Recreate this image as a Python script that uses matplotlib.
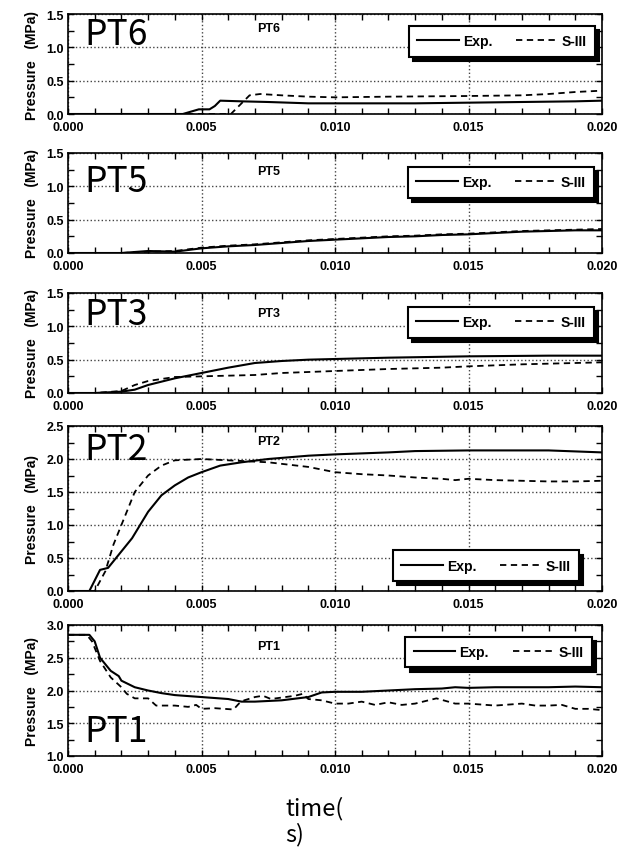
import matplotlib
matplotlib.use('Agg')
import matplotlib.pyplot as plt
from matplotlib.ticker import MultipleLocator, FormatStrFormatter

# ---------------------------------------------------------------------------
# Data (time in s, pressure in MPa)
# ---------------------------------------------------------------------------
pt6_exp_t = [0.0, 0.0043, 0.0049, 0.0053, 0.0055, 0.0057, 0.0065, 0.0075, 0.009,
             0.011, 0.013, 0.015, 0.017, 0.019, 0.020]
pt6_exp_p = [0.0, 0.0, 0.07, 0.07, 0.12, 0.20, 0.19, 0.18, 0.16,
             0.16, 0.16, 0.17, 0.18, 0.19, 0.20]
pt6_sim_t = [0.0, 0.0061, 0.0068, 0.0072, 0.008, 0.009, 0.010, 0.012, 0.015,
             0.017, 0.018, 0.019, 0.020]
pt6_sim_p = [0.0, 0.0, 0.28, 0.30, 0.28, 0.26, 0.25, 0.26, 0.27,
             0.28, 0.30, 0.33, 0.35]

pt5_exp_t = [0.0, 0.002, 0.003, 0.004, 0.005, 0.006, 0.007, 0.008, 0.009, 0.010,
             0.011, 0.012, 0.013, 0.014, 0.015, 0.016, 0.017, 0.018, 0.019, 0.020]
pt5_exp_p = [0.0, 0.0, 0.03, 0.02, 0.07, 0.10, 0.12, 0.15, 0.18, 0.20,
             0.22, 0.24, 0.25, 0.27, 0.28, 0.30, 0.32, 0.33, 0.34, 0.34]
pt5_sim_t = [0.0, 0.002, 0.003, 0.004, 0.005, 0.006, 0.007, 0.008, 0.009, 0.010,
             0.011, 0.012, 0.013, 0.014, 0.015, 0.016, 0.017, 0.018, 0.019, 0.020]
pt5_sim_p = [0.0, 0.0, 0.02, 0.03, 0.08, 0.11, 0.13, 0.16, 0.19, 0.21,
             0.23, 0.25, 0.26, 0.28, 0.29, 0.31, 0.33, 0.34, 0.35, 0.36]

pt3_exp_t = [0.0, 0.001, 0.002, 0.0025, 0.003, 0.004, 0.005, 0.006, 0.007, 0.008,
             0.009, 0.010, 0.012, 0.015, 0.018, 0.020]
pt3_exp_p = [0.0, 0.0, 0.02, 0.05, 0.12, 0.22, 0.30, 0.38, 0.45, 0.48,
             0.50, 0.51, 0.53, 0.55, 0.56, 0.56]
pt3_sim_t = [0.0, 0.001, 0.002, 0.0025, 0.003, 0.004, 0.005, 0.007, 0.008, 0.010,
             0.012, 0.014, 0.015, 0.017, 0.019, 0.020]
pt3_sim_p = [0.0, 0.0, 0.03, 0.12, 0.18, 0.24, 0.25, 0.27, 0.30, 0.33,
             0.36, 0.38, 0.40, 0.43, 0.45, 0.46]

pt2_exp_t = [0.0, 0.0008, 0.0012, 0.0015, 0.0018, 0.0024, 0.003, 0.0035, 0.004,
             0.0045, 0.005, 0.0057, 0.0065, 0.0075, 0.009, 0.010, 0.012, 0.013,
             0.015, 0.018, 0.020]
pt2_exp_p = [0.0, 0.0, 0.32, 0.35, 0.50, 0.80, 1.20, 1.45, 1.60,
             1.72, 1.80, 1.90, 1.95, 2.00, 2.05, 2.07, 2.10, 2.12,
             2.13, 2.13, 2.10]
pt2_sim_t = [0.0, 0.001, 0.0014, 0.0017, 0.002, 0.0025, 0.003, 0.0035, 0.004,
             0.005, 0.006, 0.0075, 0.009, 0.010, 0.011, 0.012, 0.013, 0.014,
             0.0145, 0.015, 0.016, 0.017, 0.018, 0.019, 0.020]
pt2_sim_p = [0.0, 0.0, 0.30, 0.70, 1.00, 1.50, 1.75, 1.90, 1.98,
             2.00, 1.98, 1.95, 1.88, 1.80, 1.77, 1.75, 1.72, 1.70,
             1.68, 1.70, 1.68, 1.67, 1.66, 1.66, 1.67]

pt1_exp_t = [0.0, 0.0008, 0.001, 0.0012, 0.0016, 0.0019, 0.002, 0.0025, 0.003,
             0.0035, 0.004, 0.005, 0.006, 0.0065, 0.007, 0.008, 0.009, 0.0095,
             0.010, 0.011, 0.012, 0.013, 0.014, 0.0145, 0.015, 0.016, 0.017,
             0.018, 0.019, 0.020]
pt1_exp_p = [2.85, 2.85, 2.75, 2.50, 2.30, 2.22, 2.15, 2.05, 2.00,
             1.96, 1.93, 1.90, 1.87, 1.83, 1.83, 1.85, 1.90, 1.97,
             1.98, 1.98, 2.00, 2.02, 2.03, 2.05, 2.04, 2.05, 2.05,
             2.05, 2.06, 2.05]
pt1_sim_t = [0.0, 0.0007, 0.0009, 0.0012, 0.0016, 0.002, 0.0022, 0.0025, 0.003,
             0.0033, 0.004, 0.0045, 0.0048, 0.005, 0.0055, 0.0062, 0.0064, 0.0066,
             0.007, 0.0073, 0.0076, 0.0085, 0.0088, 0.009, 0.0095, 0.010, 0.0105,
             0.011, 0.0115, 0.012, 0.0125, 0.013, 0.0138, 0.0145, 0.015, 0.016,
             0.017, 0.0175, 0.018, 0.0185, 0.019, 0.0195, 0.020]
pt1_sim_p = [2.85, 2.85, 2.75, 2.45, 2.20, 2.05, 1.95, 1.88, 1.88,
             1.77, 1.77, 1.75, 1.78, 1.72, 1.73, 1.71, 1.80, 1.85,
             1.90, 1.92, 1.87, 1.92, 1.95, 1.87, 1.85, 1.80, 1.80,
             1.83, 1.78, 1.82, 1.78, 1.80, 1.88, 1.80, 1.80, 1.77,
             1.80, 1.77, 1.77, 1.78, 1.72, 1.72, 1.70]

panel_names = ['PT6', 'PT5', 'PT3', 'PT2', 'PT1']
y_limits = [(0, 1.5), (0, 1.5), (0, 1.5), (0, 2.5), (1.0, 3.0)]
x_ticks = [0.000, 0.005, 0.010, 0.015, 0.020]

series = [
    (pt6_exp_t, pt6_exp_p, pt6_sim_t, pt6_sim_p),
    (pt5_exp_t, pt5_exp_p, pt5_sim_t, pt5_sim_p),
    (pt3_exp_t, pt3_exp_p, pt3_sim_t, pt3_sim_p),
    (pt2_exp_t, pt2_exp_p, pt2_sim_t, pt2_sim_p),
    (pt1_exp_t, pt1_exp_p, pt1_sim_t, pt1_sim_p),
]

# ---------------------------------------------------------------------------
# Layout (pixel boxes measured on the 626x853 reference)
# ---------------------------------------------------------------------------
W, H = 626, 853
axes_px = [(15, 115), (154, 254), (294, 394), (427, 592), (626, 757)]
legend_anchor = [((0.987, 0.88), 'upper right'),
                 ((0.985, 0.86), 'upper right'),
                 ((0.985, 0.86), 'upper right'),
                 ((0.957, 0.06), 'lower right'),
                 ((0.981, 0.91), 'upper right')]
small_label_y = [0.86, 0.82, 0.80, 0.91, 0.84]
big_label_baseline = [45, 192, 325, 460, 742]

TICK_FONT = {'family': 'Liberation Sans', 'weight': 'bold', 'size': 9}
LABEL_FONT = {'family': 'Liberation Sans', 'weight': 'bold', 'size': 10}
BIG_FONT = ['Noto Sans CJK JP', 'DejaVu Sans']

fig = plt.figure(figsize=(W / 100, H / 100), dpi=100)
left_px, right_px = 68, 602

for i, name in enumerate(panel_names):
    top, bottom = axes_px[i]
    ax = fig.add_axes([left_px / W, 1 - bottom / H,
                       (right_px - left_px) / W, (bottom - top) / H])
    t_exp, p_exp, t_sim, p_sim = series[i]
    ax.plot(t_exp, p_exp, color='black', lw=1.5, label='Exp.')
    ax.plot(t_sim, p_sim, color='black', lw=1.3, ls=(0, (3.5, 2.5)), label='S-III')

    ax.set_xlim(0, 0.020)
    ax.set_ylim(*y_limits[i])
    ax.set_xticks(x_ticks)
    ax.xaxis.set_major_formatter(FormatStrFormatter('%.3f'))
    ax.yaxis.set_major_locator(MultipleLocator(0.5))
    ax.yaxis.set_major_formatter(FormatStrFormatter('%.1f'))
    ax.xaxis.set_minor_locator(MultipleLocator(0.001))
    ax.yaxis.set_minor_locator(MultipleLocator(0.25))
    ax.tick_params(which='both', direction='in', top=True, right=True,
                   length=4, width=1, pad=3)
    ax.tick_params(axis='x', which='major', pad=5)
    for lab in ax.get_xticklabels() + ax.get_yticklabels():
        lab.set_fontproperties(TICK_FONT)
    ax.grid(True, which='major', ls=':', lw=1, color='#444444')
    for sp in ax.spines.values():
        sp.set_linewidth(1.2)

    ax.set_ylabel('Pressure   (MPa)', fontdict=LABEL_FONT)
    ax.yaxis.set_label_coords(-0.054, 0.5)

    ax.text(0.375, small_label_y[i], name, transform=ax.transAxes,
            ha='center', va='center', fontdict=TICK_FONT)

    anchor, loc = legend_anchor[i]
    leg = ax.legend(loc=loc, bbox_to_anchor=anchor, ncol=2, handlelength=3.0,
                    columnspacing=1.7, handletextpad=0.3, borderpad=0.6,
                    borderaxespad=0, fancybox=False, framealpha=1,
                    edgecolor='black', prop=LABEL_FONT,
                    shadow={'color': 'black', 'alpha': 1, 'ox': 3, 'oy': -3})
    leg.get_frame().set_linewidth(1.5)

    fig.text(84 / W, 1 - big_label_baseline[i] / H, name, ha='left',
             va='baseline', fontsize=25.5, family=BIG_FONT)

fig.text(285 / W, 1 - 797 / H, 'time(\ns)', ha='left', va='top',
         fontsize=17, family=BIG_FONT, linespacing=1.1)

fig.savefig('out.png', dpi=100, facecolor='white')
